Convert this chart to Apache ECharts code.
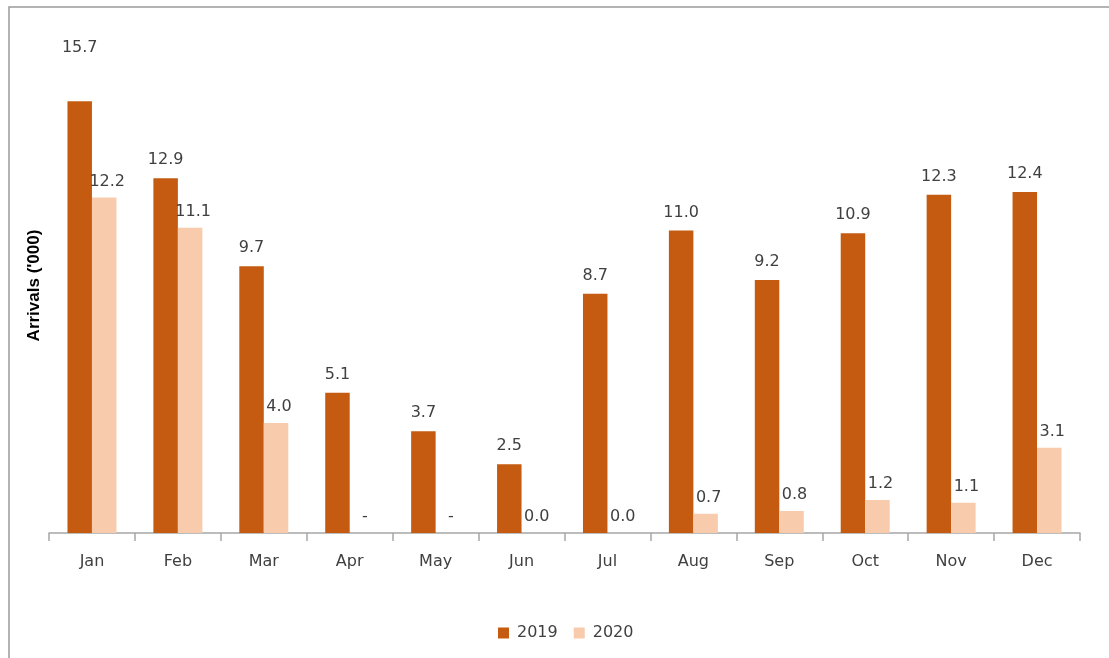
<!DOCTYPE html>
<html>
<head>
<meta charset="utf-8">
<title>Arrivals 2019 vs 2020</title>
<script src="https://cdn.jsdelivr.net/npm/echarts@6/dist/echarts.min.js"></script>
<style>
  html, body { margin: 0; padding: 0; background: #fff; }
  #chart { width: 1109px; height: 658px; }
</style>
</head>
<body>
<div id="chart"></div>
<script>
// Monthly arrivals, thousands
const months = ['Jan', 'Feb', 'Mar', 'Apr', 'May', 'Jun', 'Jul', 'Aug', 'Sep', 'Oct', 'Nov', 'Dec'];
const arrivals2019 = [15.7, 12.9, 9.7, 5.1, 3.7, 2.5, 8.7, 11.0, 9.2, 10.9, 12.3, 12.4];
const arrivals2020 = [12.2, 11.1, 4.0, 0, 0, 0.0, 0.0, 0.7, 0.8, 1.2, 1.1, 3.1];
// Months with no recorded 2020 figure (shown as a dash)
const noData2020 = ['Apr', 'May'];

const color2019 = '#C55A11';
const color2020 = '#F8CBAD';
const textColor = '#404040';
const fontFamily = '"DejaVu Sans", Verdana, sans-serif';

const chart = echarts.init(document.getElementById('chart'));

const data2019 = arrivals2019.map((v, i) => {
  const item = { value: v };
  // January's label sits well above its bar
  if (i === 0) item.label = { offset: [0, -35] };
  return item;
});

chart.setOption({
  animation: false,
  graphic: [{
    type: 'rect',
    shape: { x: 9, y: 7, width: 1120, height: 670 },
    style: { fill: 'none', stroke: '#9a9a9a', lineWidth: 1.5 },
    silent: true
  }],
  grid: { left: 49, right: 29, top: 38, bottom: 125 },
  legend: {
    left: 498,
    top: 625,
    padding: 0,
    itemWidth: 11,
    itemHeight: 11,
    itemGap: 16,
    icon: 'rect',
    textStyle: { color: textColor, fontSize: 16, fontFamily: fontFamily, padding: [0, 0, 0, 3] },
    data: ['2019', '2020']
  },
  xAxis: {
    type: 'category',
    data: months,
    boundaryGap: true,
    axisLine: { show: true, lineStyle: { color: '#a6a6a6', width: 1.5 } },
    axisTick: { show: true, length: 8, alignWithLabel: false, lineStyle: { color: '#a6a6a6', width: 1.5 } },
    axisLabel: { color: textColor, fontSize: 16, fontFamily: fontFamily, margin: 21 }
  },
  yAxis: {
    type: 'value',
    min: 0,
    max: 18,
    name: "Arrivals ('000)",
    nameLocation: 'middle',
    nameRotate: 90,
    nameGap: 6,
    nameTextStyle: { color: '#000', fontSize: 17, fontWeight: 'bold', fontFamily: '"Liberation Sans", Arial, sans-serif' },
    axisLine: { show: false },
    axisTick: { show: false },
    axisLabel: { show: false },
    splitLine: { show: false }
  },
  series: [
    {
      name: '2019',
      type: 'bar',
      data: data2019,
      barGap: '0%',
      barCategoryGap: '43%',
      itemStyle: { color: color2019 },
      label: {
        show: true,
        position: 'top',
        distance: 10,
        color: textColor,
        fontSize: 16,
        fontFamily: fontFamily,
        formatter: p => p.value.toFixed(1)
      }
    },
    {
      name: '2020',
      type: 'bar',
      data: arrivals2020,
      barGap: '0%',
      barCategoryGap: '43%',
      itemStyle: { color: color2020 },
      label: {
        show: true,
        position: 'top',
        distance: 8,
        offset: [3, 0],
        color: textColor,
        fontSize: 16,
        fontFamily: fontFamily,
        formatter: p => noData2020.includes(p.name) ? '-' : p.value.toFixed(1)
      }
    }
  ]
});
</script>
</body>
</html>
